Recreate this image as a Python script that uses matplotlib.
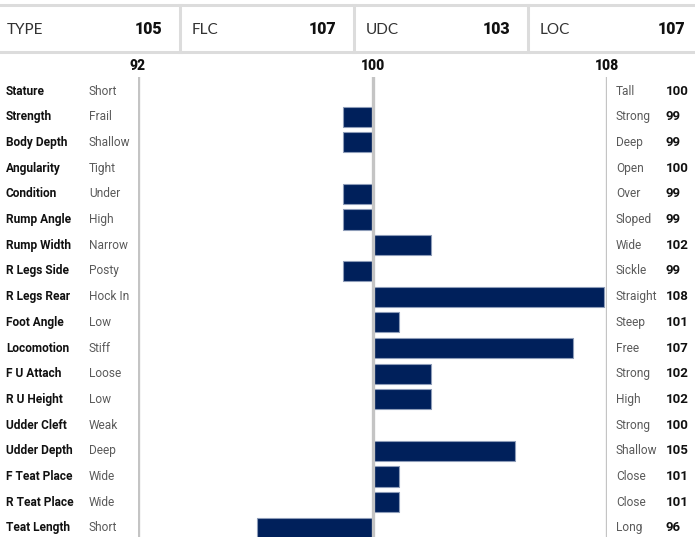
import matplotlib
matplotlib.use("Agg")
import matplotlib.pyplot as plt
from matplotlib import font_manager
from matplotlib.transforms import blended_transform_factory
from matplotlib.lines import Line2D

# header scores
groups = ["TYPE", "FLC", "UDC", "LOC"]
group_scores = [105, 107, 103, 107]

# linear traits
traits = ["Stature", "Strength", "Body Depth", "Angularity", "Condition",
          "Rump Angle", "Rump Width", "R Legs Side", "R Legs Rear",
          "Foot Angle", "Locomotion", "F U Attach", "R U Height",
          "Udder Cleft", "Udder Depth", "F Teat Place", "R Teat Place",
          "Teat Length"]
low_desc = ["Short", "Frail", "Shallow", "Tight", "Under", "High", "Narrow",
            "Posty", "Hock In", "Low", "Stiff", "Loose", "Low", "Weak",
            "Deep", "Wide", "Wide", "Short"]
high_desc = ["Tall", "Strong", "Deep", "Open", "Over", "Sloped", "Wide",
             "Sickle", "Straight", "Steep", "Free", "Strong", "High",
             "Strong", "Shallow", "Close", "Close", "Long"]
scores = [100, 99, 99, 100, 99, 99, 102, 99, 108, 101, 107, 102, 102,
          100, 105, 101, 101, 96]
# bar lengths (unrounded)
bar_vals = [100, 99.0, 99.0, 100, 99.0, 99.0, 102, 99.0, 107.9,
            100.9, 106.85, 102, 102, 100, 104.85, 100.9, 100.9, 96.05]
axis_ticks = [92, 100, 108]

installed = {f.name for f in font_manager.fontManager.ttflist}
narrow = "Liberation Sans Narrow" if "Liberation Sans Narrow" in installed else "Roboto"
head_font = "Lato"
num_font = "Roboto"

W, H = 695, 537
fig = plt.figure(figsize=(W / 100, H / 100), dpi=100)

def fx(x):
    return x / W

def fy(y):
    return 1 - y / H

# header block
line_col = "#dcdcdc"
fig.add_artist(Line2D([0, 1], [fy(5), fy(5)], color=line_col, lw=2.2))
fig.add_artist(Line2D([0, 1], [fy(52), fy(52)], color=line_col, lw=2.2))
seps = [180, 354, 528]
for s in seps:
    fig.add_artist(Line2D([fx(s), fx(s)], [fy(5), fy(52)], color=line_col, lw=2.2))
lefts = [0] + seps
rights = seps + [W]
for g, sc, l, r in zip(groups, group_scores, lefts, rights):
    fig.text(fx(l + 7 if l == 0 else l + 12), fy(29.5), g, fontsize=11,
             family=head_font, color="#333333", va="center", ha="left")
    fig.text(fx(r - 18 if r != W else r - 10), fy(29.5), str(sc), fontsize=11.5,
             family=num_font, fontweight="black", color="#111111",
             va="center", ha="right")

# bar axes: 92 -> x=138px, 108 -> x=607px, rows start at y=91px
x0, x1 = 138, 607
top, bot = 77, H
row0, step = 91, 25.7
ax = fig.add_axes([fx(x0), fy(bot), (x1 - x0) / W, (bot - top) / H])
ax.set_xlim(92, 108)
ax.set_ylim((bot - row0) / step, (top - row0) / step)
ax.axis("off")

rows = list(range(len(traits)))
widths = [v - 100 for v in bar_vals]
ax.barh(rows, widths, left=100, height=0.78, color="#00205b",
        edgecolor="#8d9cb8", linewidth=0.8, zorder=2)

for t in axis_ticks:
    ax.axvline(t, color="#c4c4c4", lw=2.4, zorder=3)
    fig.text(fx(x0 + (t - 92) / 16 * (x1 - x0)), fy(66), str(t), fontsize=10,
             family=num_font, fontweight="black", color="#111111",
             ha="center", va="center")

tr = blended_transform_factory(fig.transFigure, ax.transData)
for i in rows:
    ax.text(fx(6), i, traits[i], transform=tr, fontsize=8.6, family=narrow,
            fontweight="bold", color="#111111", va="center", ha="left")
    ax.text(fx(89), i, low_desc[i], transform=tr, fontsize=8.6, family=narrow,
            color="#5a5a5a", va="center", ha="left")
    ax.text(fx(616), i, high_desc[i], transform=tr, fontsize=8.6, family=narrow,
            color="#5a5a5a", va="center", ha="left")
    ax.text(fx(666), i, str(scores[i]), transform=tr, fontsize=9.5,
            family=num_font, fontweight="bold", color="#111111",
            va="center", ha="left")

fig.savefig("out.png", dpi=100)
